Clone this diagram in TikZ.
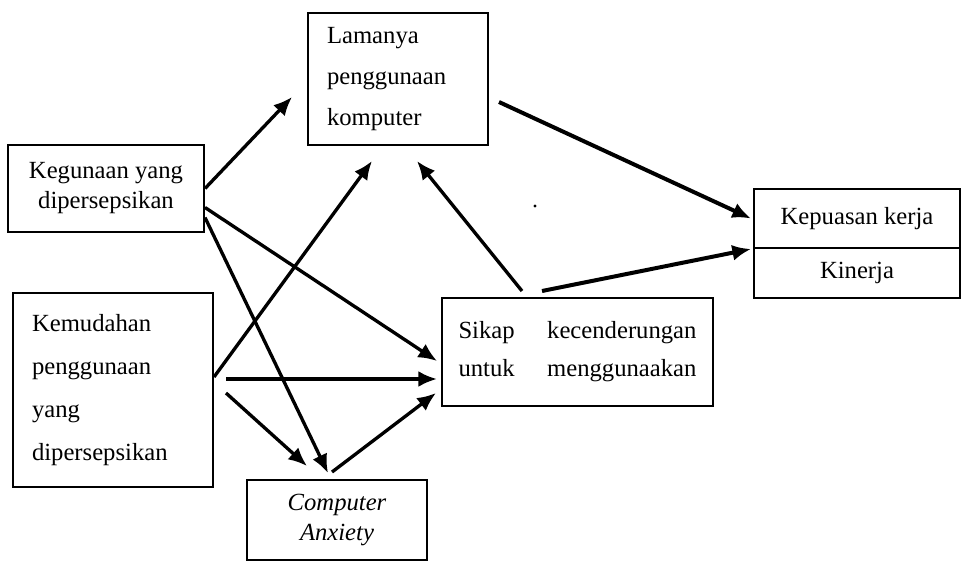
\documentclass[tikz,border=0pt]{standalone}
\usepackage{fontspec}
\setmainfont{Liberation Serif}
\usetikzlibrary{arrows.meta,calc}

\tikzset{every picture/.style={line width=0.75pt}}
\tikzset{
	boxnode/.style={draw, line width=1.5pt, inner sep=0pt},
	flow/.style={line width=2.5pt, -{Latex[length=14pt,width=12pt]}},
}

\begin{document}
\begin{tikzpicture}[x=0.75pt,y=0.75pt,yscale=-1]
	\useasboundingbox (0,0) rectangle (963,562);

	% Text Node
	\node[boxnode, minimum width=147pt, minimum height=65.25pt, align=center, font=\fontsize{18.5}{22.5}\selectfont] (guna) at (106,188.5) {Kegunaan yang\\dipersepsikan};
	% Text Node
	\node[boxnode, minimum width=150pt, minimum height=145.5pt, text width=121.5pt, align=left, font=\fontsize{18.5}{32.25}\selectfont] (mudah) at (113,390) {Kemudahan\\penggunaan\\yang\\dipersepsikan};
	% Text Node
	\node[boxnode, minimum width=135pt, minimum height=99pt, text width=106.5pt, align=left, font=\fontsize{18.5}{31}\selectfont] (lama) at (398,79) {Lamanya\\penggunaan\\komputer};
	% Text Node
	\node[boxnode, minimum width=135pt, minimum height=60pt, align=center, font=\fontsize{18.5}{22.5}\selectfont\itshape] (anx) at (337,520) {Computer\\Anxiety};
	% Text Node
	\node[boxnode, minimum width=203.25pt, minimum height=81pt, text width=178.5pt, align=left, font=\fontsize{18.5}{28.5}\selectfont] (sikap) at (577.5,352) {Sikap\hfill kecenderungan\\untuk\hfill menggunaakan};
	% Text Node
	\node[boxnode, minimum width=154.5pt, minimum height=44.25pt, font=\fontsize{18.5}{22.5}\selectfont] (puas) at (857,218.5) {Kepuasan kerja};
	% Text Node
	\node[boxnode, minimum width=154.5pt, minimum height=37.5pt, font=\fontsize{18.5}{22.5}\selectfont] (kinerja) at (857,273) {Kinerja};

	%Straight Lines
	\draw[flow] (guna.east) -- ($(lama.west)+(-15,18)$);
	%Straight Lines
	\draw[flow] ($(guna.east)+(0,19)$) -- ($(sikap.west)+(-4,9)$);
	%Straight Lines
	\draw[flow] ($(guna.east)+(0,29)$) -- ($(anx.north)+(-9,-6)$);
	%Straight Lines
	\draw[flow] ($(mudah.east)+(0,-13)$) -- ($(lama.south)+(-26,15)$);
	%Straight Lines
	\draw[flow] ($(mudah.east)+(12,-11)$) -- ($(sikap.west)+(-4,27)$);
	%Straight Lines
	\draw[flow] ($(mudah.east)+(12,3)$) -- ($(anx.north)+(-30,-13)$);
	%Straight Lines
	\draw[flow] ($(anx.north)+(-5,-7)$) -- ($(sikap.west)+(-5,41)$);
	%Straight Lines
	\draw[flow] ($(sikap.north)+(-55.5,-6)$) -- ($(lama.south)+(19,15)$);
	%Straight Lines
	\draw[flow, line width=3pt] ($(lama.east)+(10,23)$) -- ($(puas.west)+(-2,0)$);
	%Straight Lines
	\draw[flow, line width=3pt] ($(sikap.north)+(-35.5,-6)$) -- ($(puas.south west)+(-2,0)$);

	%Shape: Circle
	\fill (535,206) circle [radius=1.2pt];
\end{tikzpicture}
\end{document}
